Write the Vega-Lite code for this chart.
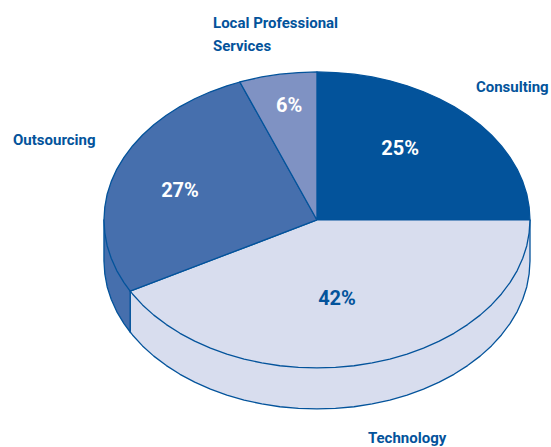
{"$schema":"https://vega.github.io/schema/vega-lite/v6.json","width":551,"height":447,"autosize":{"type":"none"},"padding":0,"background":"white","config":{"view":{"stroke":null}},
"datasets":{
"walls":[
{"part":"Technology wall","i":0,"u":1,"v":0},{"part":"Technology wall","i":1,"u":1,"v":-0.277},{"part":"Technology wall","i":2,"u":0.996,"v":-0.364},{"part":"Technology wall","i":3,"u":0.985,"v":-0.451},{"part":"Technology wall","i":4,"u":0.966,"v":-0.536},{"part":"Technology wall","i":5,"u":0.94,"v":-0.619},{"part":"Technology wall","i":6,"u":0.906,"v":-0.7},{"part":"Technology wall","i":7,"u":0.866,"v":-0.777},{"part":"Technology wall","i":8,"u":0.819,"v":-0.851},{"part":"Technology wall","i":9,"u":0.766,"v":-0.92},{"part":"Technology wall","i":10,"u":0.707,"v":-0.984},{"part":"Technology wall","i":11,"u":0.643,"v":-1.043},{"part":"Technology wall","i":12,"u":0.574,"v":-1.096},{"part":"Technology wall","i":13,"u":0.5,"v":-1.143},{"part":"Technology wall","i":14,"u":0.423,"v":-1.183},{"part":"Technology wall","i":15,"u":0.342,"v":-1.217},{"part":"Technology wall","i":16,"u":0.259,"v":-1.243},{"part":"Technology wall","i":17,"u":0.174,"v":-1.262},{"part":"Technology wall","i":18,"u":0.087,"v":-1.273},{"part":"Technology wall","i":19,"u":0,"v":-1.277},{"part":"Technology wall","i":20,"u":-0.087,"v":-1.273},{"part":"Technology wall","i":21,"u":-0.174,"v":-1.262},{"part":"Technology wall","i":22,"u":-0.259,"v":-1.243},{"part":"Technology wall","i":23,"u":-0.342,"v":-1.217},{"part":"Technology wall","i":24,"u":-0.423,"v":-1.183},{"part":"Technology wall","i":25,"u":-0.5,"v":-1.143},{"part":"Technology wall","i":26,"u":-0.574,"v":-1.096},{"part":"Technology wall","i":27,"u":-0.643,"v":-1.043},{"part":"Technology wall","i":28,"u":-0.707,"v":-0.984},{"part":"Technology wall","i":29,"u":-0.766,"v":-0.92},{"part":"Technology wall","i":30,"u":-0.819,"v":-0.851},{"part":"Technology wall","i":31,"u":-0.866,"v":-0.777},{"part":"Technology wall","i":32,"u":-0.877,"v":-0.757},{"part":"Technology wall","i":33,"u":-0.877,"v":-0.481},{"part":"Technology wall","i":34,"u":1,"v":0},
{"part":"Outsourcing wall","i":0,"u":-0.877,"v":-0.481},{"part":"Outsourcing wall","i":1,"u":-0.877,"v":-0.757},{"part":"Outsourcing wall","i":2,"u":-0.906,"v":-0.7},{"part":"Outsourcing wall","i":3,"u":-0.94,"v":-0.619},{"part":"Outsourcing wall","i":4,"u":-0.966,"v":-0.536},{"part":"Outsourcing wall","i":5,"u":-0.985,"v":-0.451},{"part":"Outsourcing wall","i":6,"u":-0.996,"v":-0.364},{"part":"Outsourcing wall","i":7,"u":-1,"v":-0.277},{"part":"Outsourcing wall","i":8,"u":-1,"v":0},{"part":"Outsourcing wall","i":9,"u":-0.877,"v":-0.481}
],
"slices":[
{"part":"Consulting","i":0,"u":0,"v":0},{"part":"Consulting","i":1,"u":0,"v":1},{"part":"Consulting","i":2,"u":0.087,"v":0.996},{"part":"Consulting","i":3,"u":0.174,"v":0.985},{"part":"Consulting","i":4,"u":0.259,"v":0.966},{"part":"Consulting","i":5,"u":0.342,"v":0.94},{"part":"Consulting","i":6,"u":0.423,"v":0.906},{"part":"Consulting","i":7,"u":0.5,"v":0.866},{"part":"Consulting","i":8,"u":0.574,"v":0.819},{"part":"Consulting","i":9,"u":0.643,"v":0.766},{"part":"Consulting","i":10,"u":0.707,"v":0.707},{"part":"Consulting","i":11,"u":0.766,"v":0.643},{"part":"Consulting","i":12,"u":0.819,"v":0.574},{"part":"Consulting","i":13,"u":0.866,"v":0.5},{"part":"Consulting","i":14,"u":0.906,"v":0.423},{"part":"Consulting","i":15,"u":0.94,"v":0.342},{"part":"Consulting","i":16,"u":0.966,"v":0.259},{"part":"Consulting","i":17,"u":0.985,"v":0.174},{"part":"Consulting","i":18,"u":0.996,"v":0.087},{"part":"Consulting","i":19,"u":1,"v":0},{"part":"Consulting","i":20,"u":0,"v":0},
{"part":"Technology","i":0,"u":0,"v":0},{"part":"Technology","i":1,"u":1,"v":0},{"part":"Technology","i":2,"u":0.996,"v":-0.087},{"part":"Technology","i":3,"u":0.985,"v":-0.174},{"part":"Technology","i":4,"u":0.966,"v":-0.259},{"part":"Technology","i":5,"u":0.94,"v":-0.342},{"part":"Technology","i":6,"u":0.906,"v":-0.423},{"part":"Technology","i":7,"u":0.866,"v":-0.5},{"part":"Technology","i":8,"u":0.819,"v":-0.574},{"part":"Technology","i":9,"u":0.766,"v":-0.643},{"part":"Technology","i":10,"u":0.707,"v":-0.707},{"part":"Technology","i":11,"u":0.643,"v":-0.766},{"part":"Technology","i":12,"u":0.574,"v":-0.819},{"part":"Technology","i":13,"u":0.5,"v":-0.866},{"part":"Technology","i":14,"u":0.423,"v":-0.906},{"part":"Technology","i":15,"u":0.342,"v":-0.94},{"part":"Technology","i":16,"u":0.259,"v":-0.966},{"part":"Technology","i":17,"u":0.174,"v":-0.985},{"part":"Technology","i":18,"u":0.087,"v":-0.996},{"part":"Technology","i":19,"u":0,"v":-1},{"part":"Technology","i":20,"u":-0.087,"v":-0.996},{"part":"Technology","i":21,"u":-0.174,"v":-0.985},{"part":"Technology","i":22,"u":-0.259,"v":-0.966},{"part":"Technology","i":23,"u":-0.342,"v":-0.94},{"part":"Technology","i":24,"u":-0.423,"v":-0.906},{"part":"Technology","i":25,"u":-0.5,"v":-0.866},{"part":"Technology","i":26,"u":-0.574,"v":-0.819},{"part":"Technology","i":27,"u":-0.643,"v":-0.766},{"part":"Technology","i":28,"u":-0.707,"v":-0.707},{"part":"Technology","i":29,"u":-0.766,"v":-0.643},{"part":"Technology","i":30,"u":-0.819,"v":-0.574},{"part":"Technology","i":31,"u":-0.866,"v":-0.5},{"part":"Technology","i":32,"u":-0.877,"v":-0.481},{"part":"Technology","i":33,"u":0,"v":0},
{"part":"Outsourcing","i":0,"u":0,"v":0},{"part":"Outsourcing","i":1,"u":-0.877,"v":-0.481},{"part":"Outsourcing","i":2,"u":-0.906,"v":-0.423},{"part":"Outsourcing","i":3,"u":-0.94,"v":-0.342},{"part":"Outsourcing","i":4,"u":-0.966,"v":-0.259},{"part":"Outsourcing","i":5,"u":-0.985,"v":-0.174},{"part":"Outsourcing","i":6,"u":-0.996,"v":-0.087},{"part":"Outsourcing","i":7,"u":-1,"v":0},{"part":"Outsourcing","i":8,"u":-0.996,"v":0.087},{"part":"Outsourcing","i":9,"u":-0.985,"v":0.174},{"part":"Outsourcing","i":10,"u":-0.966,"v":0.259},{"part":"Outsourcing","i":11,"u":-0.94,"v":0.342},{"part":"Outsourcing","i":12,"u":-0.906,"v":0.423},{"part":"Outsourcing","i":13,"u":-0.866,"v":0.5},{"part":"Outsourcing","i":14,"u":-0.819,"v":0.574},{"part":"Outsourcing","i":15,"u":-0.766,"v":0.643},{"part":"Outsourcing","i":16,"u":-0.707,"v":0.707},{"part":"Outsourcing","i":17,"u":-0.643,"v":0.766},{"part":"Outsourcing","i":18,"u":-0.574,"v":0.819},{"part":"Outsourcing","i":19,"u":-0.5,"v":0.866},{"part":"Outsourcing","i":20,"u":-0.423,"v":0.906},{"part":"Outsourcing","i":21,"u":-0.362,"v":0.932},{"part":"Outsourcing","i":22,"u":0,"v":0},
{"part":"Local Professional Services","i":0,"u":0,"v":0},{"part":"Local Professional Services","i":1,"u":-0.362,"v":0.932},{"part":"Local Professional Services","i":2,"u":-0.342,"v":0.94},{"part":"Local Professional Services","i":3,"u":-0.259,"v":0.966},{"part":"Local Professional Services","i":4,"u":-0.174,"v":0.985},{"part":"Local Professional Services","i":5,"u":-0.087,"v":0.996},{"part":"Local Professional Services","i":6,"u":0,"v":1},{"part":"Local Professional Services","i":7,"u":0,"v":0}
],
"names":[
{"name":"Consulting","u":0.746,"v":0.899},
{"name":"Outsourcing","u":-1.427,"v":0.541},
{"name":"Local Professional\nServices","u":-0.488,"v":1.331},
{"name":"Technology","u":0.239,"v":-1.473}
],
"shares":[
{"part":"Consulting","share":"25%","u":0.39,"v":0.476},
{"part":"Local Professional Services","share":"6%","u":-0.131,"v":0.771},
{"part":"Outsourcing","share":"27%","u":-0.643,"v":0.196},
{"part":"Technology","share":"42%","u":0.094,"v":-0.533}
]},
"encoding":{
"x":{"field":"u","type":"quantitative","axis":null,"scale":{"domain":[-1.488,1.0986],"nice":false,"zero":false}},
"y":{"field":"v","type":"quantitative","axis":null,"scale":{"domain":[-1.534,1.486],"nice":false,"zero":false}}
},
"layer":[
{"data":{"name":"walls"},"mark":{"type":"line","stroke":"#03539b","strokeWidth":1.3,"strokeJoin":"round"},
"encoding":{"detail":{"field":"part"},"order":{"field":"i","type":"quantitative"},"fill":{"field":"part","type":"nominal","legend":null,"scale":{"domain":["Technology wall","Outsourcing wall","Consulting","Technology","Outsourcing","Local Professional Services"],"range":["#d8ddee","#466fad","#03539b","#d8ddee","#466fad","#7f92c3"]}}}},
{"data":{"name":"slices"},"mark":{"type":"line","stroke":"#03539b","strokeWidth":1.3,"strokeJoin":"round"},
"encoding":{"detail":{"field":"part"},"order":{"field":"i","type":"quantitative"},"fill":{"field":"part","type":"nominal","legend":null}}},
{"data":{"name":"names"},"mark":{"type":"text","align":"left","baseline":"middle","font":"Roboto","fontWeight":"bold","fontSize":15,"fill":"#03539b","lineBreak":"\n","lineHeight":23},
"encoding":{"text":{"field":"name"}}},
{"data":{"name":"shares"},"mark":{"type":"text","align":"center","baseline":"middle","font":"Roboto","fontWeight":"bold","fontSize":20},
"encoding":{"text":{"field":"share"},"color":{"field":"part","type":"nominal","legend":null,"scale":{"domain":["Consulting","Local Professional Services","Outsourcing","Technology"],"range":["#ffffff","#ffffff","#ffffff","#03539b"]}}}}
]}
